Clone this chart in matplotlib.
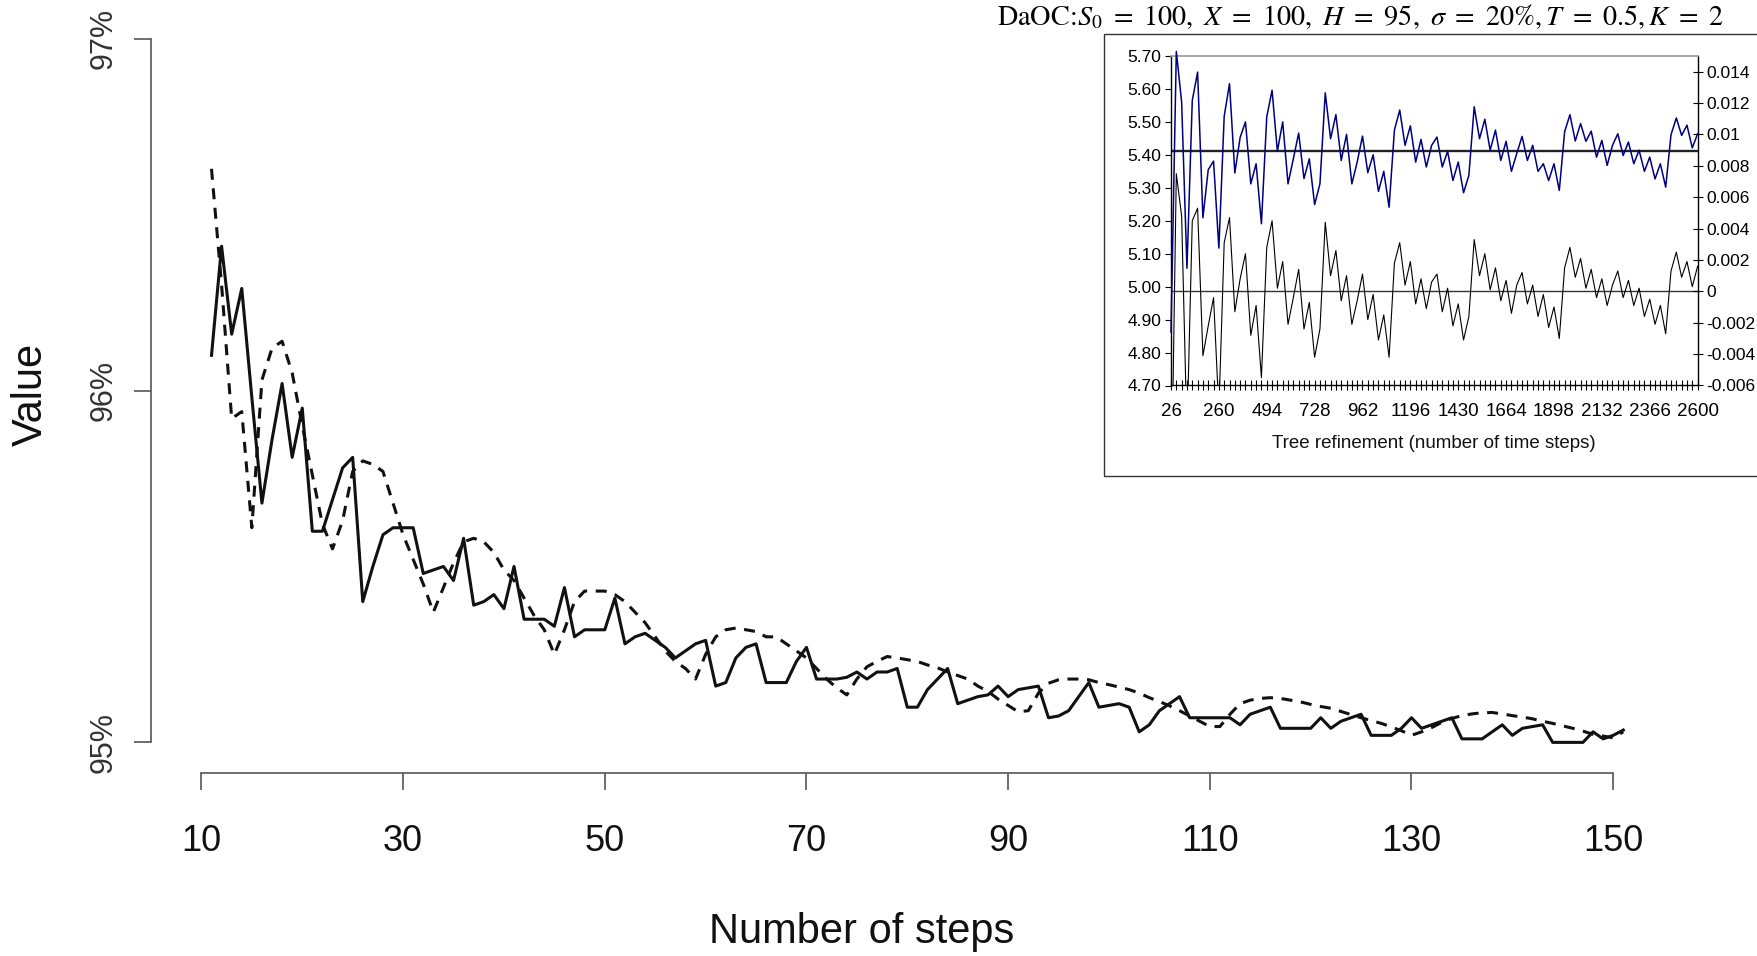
import numpy as np
import matplotlib
matplotlib.use("Agg")
import matplotlib.pyplot as plt
from matplotlib.patches import Rectangle

# ---------------- main chart data ----------------
steps = list(range(11, 152))
solid_values = [
    96.10, 96.41, 96.16, 96.29, 95.98, 95.68, 95.86, 96.02, 95.81, 95.95,
    95.60, 95.60, 95.69, 95.78, 95.81, 95.40, 95.50, 95.59, 95.61, 95.61,
    95.61, 95.48, 95.49, 95.50, 95.46, 95.58, 95.39, 95.40, 95.42, 95.38,
    95.50, 95.35, 95.35, 95.35, 95.33, 95.44, 95.30, 95.32, 95.32, 95.32,
    95.41, 95.28, 95.30, 95.31, 95.29, 95.27, 95.24, 95.26, 95.28, 95.29,
    95.16, 95.17, 95.24, 95.27, 95.28, 95.17, 95.17, 95.17, 95.23, 95.27,
    95.18, 95.18, 95.18, 95.185, 95.20, 95.18, 95.20, 95.20, 95.21, 95.10,
    95.10, 95.15, 95.18, 95.21, 95.11, 95.12, 95.13, 95.135, 95.16, 95.13,
    95.15, 95.155, 95.16, 95.07, 95.075, 95.09, 95.13, 95.17, 95.10, 95.105,
    95.11, 95.10, 95.03, 95.05, 95.09, 95.11, 95.13, 95.07, 95.07, 95.07,
    95.07, 95.07, 95.05, 95.08, 95.09, 95.10, 95.04, 95.04, 95.04, 95.04,
    95.07, 95.04, 95.06, 95.07, 95.08, 95.02, 95.02, 95.02, 95.04, 95.07,
    95.04, 95.05, 95.06, 95.07, 95.01, 95.01, 95.01, 95.03, 95.05, 95.02,
    95.04, 95.045, 95.05, 95.00, 95.00, 95.00, 95.00, 95.03, 95.01, 95.02,
    95.035,
]
dashed_values = [
    96.63, 96.30, 95.92, 95.94, 95.61, 96.03, 96.12, 96.14, 96.05, 95.90,
    95.76, 95.62, 95.55, 95.63, 95.77, 95.80, 95.79, 95.77, 95.68, 95.59,
    95.52, 95.45, 95.37, 95.44, 95.51, 95.57, 95.58, 95.57, 95.54, 95.49,
    95.46, 95.41, 95.36, 95.32, 95.25, 95.32, 95.40, 95.43, 95.43, 95.43,
    95.42, 95.40, 95.37, 95.34, 95.30, 95.26, 95.23, 95.21, 95.18, 95.25,
    95.30, 95.32, 95.325, 95.32, 95.315, 95.30, 95.30, 95.28, 95.26, 95.24,
    95.21, 95.18, 95.155, 95.135, 95.18, 95.215, 95.23, 95.244, 95.24, 95.235,
    95.23, 95.22, 95.212, 95.20, 95.19, 95.18, 95.16, 95.145, 95.123, 95.105,
    95.087, 95.09, 95.14, 95.168, 95.178, 95.18, 95.18, 95.178, 95.17, 95.164,
    95.157, 95.15, 95.14, 95.127, 95.116, 95.104, 95.09, 95.075, 95.06, 95.045,
    95.045, 95.08, 95.11, 95.12, 95.125, 95.127, 95.125, 95.12, 95.115, 95.108,
    95.102, 95.097, 95.088, 95.079, 95.07, 95.062, 95.054, 95.044, 95.033, 95.02,
    95.03, 95.042, 95.057, 95.068, 95.076, 95.081, 95.084, 95.085, 95.081, 95.076,
    95.072, 95.067, 95.06, 95.054, 95.047, 95.04, 95.032, 95.023, 95.018, 95.013,
    95.03,
]
x_ticks = [10, 30, 50, 70, 90, 110, 130, 150]
y_ticks = [95, 96, 97]
y_tick_labels = ["95%", "96%", "97%"]

# ---------------- inset data ----------------
inset_steps = list(range(26, 2601, 26))
inset_price = [
    4.862, 5.714, 5.560, 5.056, 5.565, 5.651, 5.209, 5.355, 5.381, 5.117,
    5.517, 5.616, 5.345, 5.453, 5.500, 5.312, 5.373, 5.191, 5.515, 5.596,
    5.411, 5.500, 5.312, 5.388, 5.466, 5.328, 5.388, 5.249, 5.312, 5.588,
    5.449, 5.522, 5.383, 5.462, 5.312, 5.378, 5.457, 5.346, 5.400, 5.289,
    5.350, 5.241, 5.475, 5.536, 5.429, 5.488, 5.378, 5.447, 5.363, 5.429,
    5.454, 5.363, 5.411, 5.322, 5.378, 5.285, 5.338, 5.546, 5.449, 5.508,
    5.414, 5.475, 5.383, 5.441, 5.350, 5.404, 5.456, 5.383, 5.429, 5.350,
    5.373, 5.322, 5.373, 5.292, 5.470, 5.522, 5.442, 5.495, 5.441, 5.472,
    5.393, 5.444, 5.368, 5.429, 5.464, 5.398, 5.439, 5.373, 5.414, 5.350,
    5.393, 5.327, 5.373, 5.302, 5.461, 5.512, 5.459, 5.490, 5.421, 5.464,
]
inset_error = [
    -0.0145, 0.0075, 0.0048, -0.0091, 0.0045, 0.0053, -0.0041, -0.0022, -0.0004, -0.0076,
    0.0031, 0.0047, -0.0013, 0.0008, 0.0024, -0.0028, -0.0009, -0.0055, 0.0028, 0.0045,
    0.0002, 0.0019, -0.0021, -0.0004, 0.0014, -0.0024, -0.0007, -0.0042, -0.0024, 0.0044,
    0.0010, 0.0026, -0.0006, 0.0010, -0.0021, -0.0006, 0.0011, -0.0018, -0.0002, -0.0031,
    -0.0015, -0.0042, 0.0018, 0.0031, 0.0004, 0.0019, -0.0008, 0.0008, -0.0011, 0.0006,
    0.0011, -0.0013, 0.0002, -0.0022, -0.0008, -0.0031, -0.0016, 0.0033, 0.0010, 0.0024,
    0.0001, 0.0015, -0.0006, 0.0007, -0.0014, 0.0004, 0.0012, -0.0008, 0.0004, -0.0016,
    -0.0002, -0.0023, -0.0010, -0.0030, 0.0015, 0.0028, 0.0009, 0.0021, 0.0002, 0.0014,
    -0.0004, 0.0008, -0.0009, 0.0004, 0.0013, -0.0004, 0.0007, -0.0009, 0.0002, -0.0016,
    -0.0005, -0.0021, -0.0009, -0.0027, 0.0013, 0.0025, 0.0009, 0.0019, 0.0003, 0.0016,
]
inset_true_value = 5.413
inset_zero = 0.0
inset_xtick_labels = ["26", "260", "494", "728", "962", "1196", "1430",
                      "1664", "1898", "2132", "2366", "2600"]
inset_left_ticks = [4.70, 4.80, 4.90, 5.00, 5.10, 5.20, 5.30, 5.40, 5.50, 5.60, 5.70]
inset_right_ticks = [-0.006, -0.004, -0.002, 0.0, 0.002, 0.004, 0.006, 0.008, 0.010, 0.012, 0.014]
inset_right_labels = ["-0.006", "-0.004", "-0.002", "0", "0.002", "0.004", "0.006",
                      "0.008", "0.01", "0.012", "0.014"]

plt.rcParams["font.family"] = ["Liberation Sans", "DejaVu Sans"]
plt.rcParams["mathtext.fontset"] = "stix"

W, H = 1757, 956
fig = plt.figure(figsize=(W / 100, H / 100), dpi=100)
fig.patch.set_facecolor("white")


def fx(px):
    return px / W


def fy(py):
    return 1 - py / H


# ---------------- main axes ----------------
ax = fig.add_axes([fx(151), fy(773), (1663.6 - 151) / W, (773 - 8) / H])
ax.patch.set_visible(False)
ax.set_xlim(5, 155)
ax.set_ylim(94.913, 97.087)
ax.plot(steps, dashed_values, color="#111111", lw=2.2, dashes=(3.6, 2.8))
ax.plot(steps, solid_values, color="#111111", lw=2.2)

for s in ["top", "right"]:
    ax.spines[s].set_visible(False)
for s in ["left", "bottom"]:
    ax.spines[s].set_color("#555555")
    ax.spines[s].set_linewidth(1.2)
ax.spines["left"].set_bounds(95, 97)
ax.spines["bottom"].set_bounds(10, 150)

ax.set_yticks(y_ticks)
ax.set_yticklabels(y_tick_labels, rotation=90, va="center")
ax.set_xticks(x_ticks)
ax.set_xticklabels([str(t) for t in x_ticks])
ax.tick_params(axis="y", length=12, width=1.2, color="#555555",
               labelsize=22, pad=11, labelcolor="#333333")
ax.tick_params(axis="x", length=12, width=1.2, color="#555555",
               labelsize=26, pad=25, labelcolor="#111111")

fig.text(fx(861.6), fy(932), "Number of steps", fontsize=30,
         ha="center", va="center", color="#111111")
fig.text(fx(31), fy(394), "Value", fontsize=30, rotation=90,
         ha="center", va="center", color="#111111")

# ---------------- inset ----------------
box = Rectangle((fx(1103.7), fy(476.2)), 1.05 - fx(1103.7), (476.2 - 33.6) / H,
                transform=fig.transFigure, facecolor="white",
                edgecolor="#333333", lw=1.0, zorder=1)
fig.patches.append(box)

ax_in = fig.add_axes([fx(1171), fy(385.5), (1697.6 - 1171) / W, (385.5 - 56) / H])
ax_r = ax_in.twinx()
ax_r.set_zorder(2)
ax_in.set_zorder(3)
ax_in.patch.set_visible(False)

idx = np.arange(len(inset_steps))
ax_in.set_xlim(0, len(inset_steps) - 1)
ax_in.set_ylim(4.70, 5.70)
ax_r.set_ylim(-0.006, 0.015)

ax_r.axhline(inset_zero, color="#333333", lw=1.0, zorder=1)
ax_r.plot(idx, inset_error, color="black", lw=0.8, zorder=2)
ax_in.axhline(inset_true_value, color="#222222", lw=1.7, zorder=2)
ax_in.plot(idx, inset_price, color="#000080", lw=1.1, zorder=3, clip_on=False)

ax_in.spines["top"].set_color("#999999")
ax_in.spines["top"].set_linewidth(1.2)
ax_in.spines["right"].set_visible(False)
for s in ["left", "bottom"]:
    ax_in.spines[s].set_color("black")
    ax_in.spines[s].set_linewidth(1.0)
for s in ["left", "top", "bottom"]:
    ax_r.spines[s].set_visible(False)
ax_r.spines["right"].set_color("black")
ax_r.spines["right"].set_linewidth(1.0)

label_pos = [i for i in idx if i % 9 == 0]
ax_in.set_xticks(label_pos)
ax_in.set_xticklabels(inset_xtick_labels)
ax_in.set_xticks(idx, minor=True)
ax_in.tick_params(axis="x", which="both", direction="inout", length=7,
                  width=0.8, labelsize=13.5, pad=9)
ax_in.set_yticks(inset_left_ticks)
ax_in.set_yticklabels(["%.2f" % v for v in inset_left_ticks])
ax_in.tick_params(axis="y", direction="out", length=4, width=0.8,
                  labelsize=12.5, pad=3)
ax_r.set_yticks(inset_right_ticks)
ax_r.set_yticklabels(inset_right_labels)
ax_r.tick_params(axis="y", direction="inout", length=7, width=0.8,
                 labelsize=12.5, pad=3)

fig.text(fx(1434), fy(443.7), "Tree refinement (number of time steps)",
         fontsize=13.5, ha="center", va="center", color="#111111")

fig.text(fx(997), fy(17),
         r"DaOC:$S_0\ =\ 100,\ X\ =\ 100,\ H\ =\ 95,\ \sigma\ =\ 20\%,T\ =\ 0.5,K\ =\ 2$",
         fontsize=20.3, family="STIXGeneral", ha="left", va="center")

fig.savefig("out.png", dpi=100, facecolor="white")
